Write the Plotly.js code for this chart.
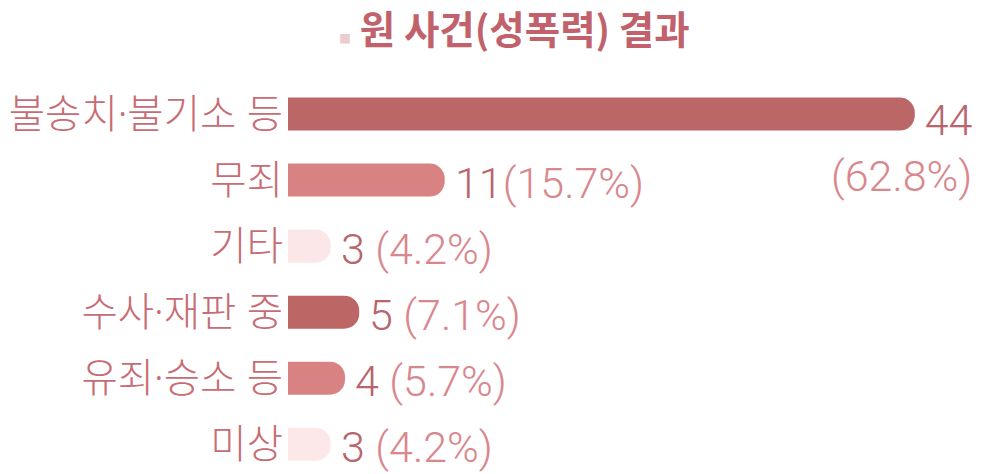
<!DOCTYPE html>
<html><head><meta charset="utf-8">
<script src="https://cdn.plot.ly/plotly-3.0.1.min.js"></script>
<style>html,body{margin:0;padding:0;background:#fff;}#chart{width:990px;height:474px;}</style>
</head><body><div id="chart"></div>
<script>
const categories = ['불송치·불기소 등', '무죄', '기타', '수사·재판 중', '유죄·승소 등', '미상'];
const counts = [44, 11, 3, 5, 4, 3];
const percents = ['(62.8%)', '(15.7%)', '(4.2%)', '(7.1%)', '(5.7%)', '(4.2%)'];
const barColors = ['#BC6767', '#D98283', '#FCE7E8', '#BC6666', '#D98283', '#FCE8E9'];

const darkNum = '#B8656D', lightPct = '#D9878D';

const trace = {
  type: 'bar', orientation: 'h',
  x: counts, y: categories,
  marker: {color: barColors, line: {width: 0}},
  width: 0.5, hoverinfo: 'none'
};

const annotations = counts.map((v, i) => {
  const num = `<span style="color:${darkNum}">${v}</span>`;
  const pct = `<span style="color:${lightPct}">${percents[i]}</span>`;
  if (i === 0) {
    return {x: v, y: categories[i], xref: 'x', yref: 'y', text: num + '<br>' + pct,
      showarrow: false, xanchor: 'right', yanchor: 'middle', align: 'right',
      xshift: 60, yshift: -34,
      font: {family: 'Roboto', size: 43, weight: 300, color: darkNum}};
  }
  return {x: v, y: categories[i], xref: 'x', yref: 'y', text: num + (v >= 10 ? '' : ' ') + pct,
    showarrow: false, xanchor: 'left', yanchor: 'middle', xshift: 8, yshift: -3,
    font: {family: 'Roboto', size: 43, weight: 300, color: darkNum}};
});

annotations.push({
  xref: 'paper', yref: 'paper', x: 0.323, y: 1, yanchor: 'bottom', xanchor: 'center', yshift: 24, showarrow: false,
  text: '<span style="color:#EBCDD1;font-size:12px">■</span> 원 사건(성폭력) 결과',
  font: {family: 'Noto Sans CJK KR', size: 38.5, weight: 700, color: '#C0616B'}
});

const layout = {
  width: 990, height: 474,
  margin: {l: 288, r: 0, t: 81, b: 0},
  paper_bgcolor: '#fff', plot_bgcolor: '#fff',
  barcornerradius: 15,
  showlegend: false,
  xaxis: {range: [0, 49.28], visible: false, fixedrange: true},
  yaxis: {range: [5.45, -0.5], showgrid: false, zeroline: false, showline: false, ticks: '',
    ticklabelstandoff: 4,
    tickfont: {family: 'Noto Sans, Noto Sans CJK KR', size: 39.5, weight: 300, color: '#C76C75'}},
  annotations: annotations
};

Plotly.newPlot('chart', [trace], layout, {displayModeBar: false, staticPlot: true});
</script></body></html>
